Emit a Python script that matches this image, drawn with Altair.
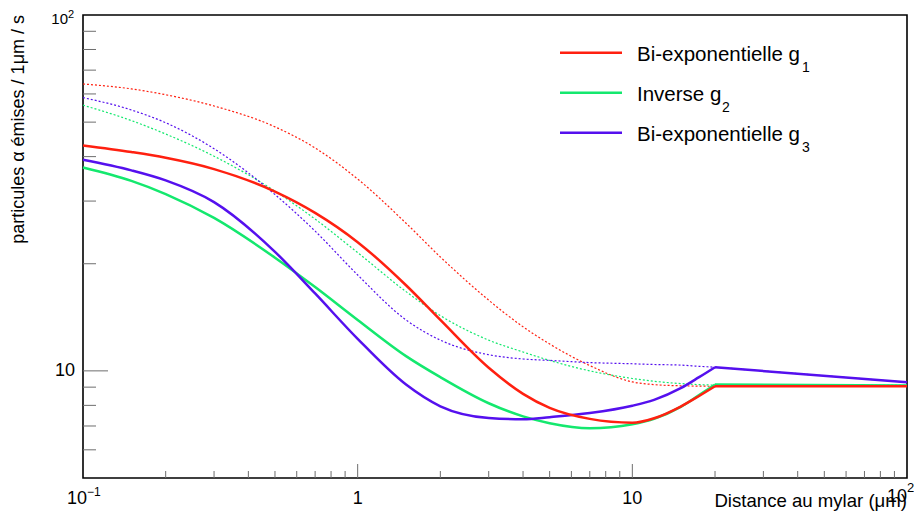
import altair as alt
import pandas as pd

# ---------------- data ----------------
x_main = [0.1, 0.15, 0.2, 0.3, 0.5, 0.7, 1, 1.5, 2, 3, 4, 5, 7, 10, 12, 15, 17.5, 20]
x_tail = [20, 100]

g1_solid = [43.0, 41.2, 39.7, 36.9, 31.9, 27.8, 23.0, 17.4, 13.9, 10.2, 8.62, 7.87, 7.33, 7.15, 7.36, 7.94, 8.5, 9.05]
g2_solid = [37.3, 34.2, 31.4, 26.9, 20.8, 17.2, 13.9, 11.0, 9.6, 8.11, 7.45, 7.13, 6.90, 7.08, 7.33, 7.92, 8.55, 9.15]
g3_solid = [39.2, 36.6, 34.3, 29.8, 21.6, 16.5, 12.3, 9.15, 7.95, 7.37, 7.31, 7.41, 7.61, 7.98, 8.29, 8.94, 9.6, 10.24]

g1_dot = [64.0, 62.0, 59.7, 55.5, 48.5, 42.3, 34.6, 26.0, 20.9, 15.8, 13.3, 11.9, 10.35, 9.31, 9.15, 9.08, 9.06, 9.05]
g2_dot = [55.8, 50.5, 46.3, 40.1, 32.0, 26.7, 21.5, 16.7, 14.3, 12.2, 11.3, 10.7, 10.0, 9.52, 9.35, 9.21, 9.15, 9.12]
g3_dot = [58.6, 54.1, 49.8, 42.1, 31.3, 24.7, 18.6, 13.9, 12.2, 11.1, 10.8, 10.7, 10.55, 10.47, 10.42, 10.38, 10.3, 10.24]

g1_tail = [9.05, 9.05]
g2_tail = [9.15, 9.1]
g3_tail = [10.24, 9.29]

series_names = ["g1", "g2", "g3"]
series_colors = ["#ff2010", "#14e86e", "#5510ee"]
legend_labels = ["Bi-exponentielle g", "Inverse g", "Bi-exponentielle g"]
legend_subs = ["1", "2", "3"]

x_tick_major = [1, 10]
x_tick_minor = [0.2, 0.3, 0.4, 0.5, 0.6, 0.7, 0.8, 0.9, 2, 3, 4, 5, 6, 7, 8, 9,
                20, 30, 40, 50, 60, 70, 80, 90]
y_tick_major = [10]
y_tick_minor = [6, 7, 8, 9, 20, 30, 40, 50, 60, 70, 80, 90]

x_label_vals = [0.1, 1, 10, 100]
x_label_base = ["10", "1", "10", "10"]
x_label_sup = ["\u22121", "", "", "2"]
x_label_kind = ["low", "mid", "mid", "high"]

y_label_vals = [10, 100]
y_label_base = ["10", "10"]
y_label_sup = ["", "2"]

x_title = "Distance au mylar (\u03bcm)"
y_title = "particules \u03b1 \u00e9mises / 1\u03bcm / s"

# ---------------- build tables ----------------
def rows(name, main, tail):
    out = []
    for xv, yv in zip(x_main, main):
        out.append({"x": xv, "y": yv, "series": name, "seg": name + "a"})
    for xv, yv in zip(x_tail, tail):
        out.append({"x": xv, "y": yv, "series": name, "seg": name + "b"})
    return out

solid_df = pd.DataFrame(rows("g1", g1_solid, g1_tail) + rows("g2", g2_solid, g2_tail) + rows("g3", g3_solid, g3_tail))
dot_df = pd.DataFrame(rows("g1", g1_dot, g1_tail) + rows("g2", g2_dot, g2_tail) + rows("g3", g3_dot, g3_tail))

W, H = 824, 463
FONT = "Liberation Sans"

xs = alt.Scale(type="log", domain=[0.1, 100], nice=False)
ys = alt.Scale(type="log", domain=[5, 100], nice=False)
cs = alt.Scale(domain=series_names, range=series_colors)

X = alt.X("x:Q", scale=xs, axis=None)
Y = alt.Y("y:Q", scale=ys, axis=None)

layers = []

# dotted curves
layers.append(
    alt.Chart(dot_df).mark_line(strokeWidth=1.2, strokeDash=[2, 2], interpolate="monotone").encode(
        x=X, y=Y, color=alt.Color("series:N", scale=cs, legend=None), detail="seg:N"
    )
)
# solid curves: green, blue, red on top
for name in ["g2", "g3", "g1"]:
    layers.append(
        alt.Chart(solid_df[solid_df.series == name]).mark_line(strokeWidth=2.5, interpolate="monotone").encode(
            x=X, y=Y, color=alt.Color("series:N", scale=cs, legend=None), detail="seg:N"
        )
    )

# ticks (inside the frame, ROOT style)
tick_color = "#6e6e6e"
xt_major = pd.DataFrame({"v": x_tick_major})
xt_minor = pd.DataFrame({"v": x_tick_minor})
yt_major = pd.DataFrame({"v": y_tick_major})
yt_minor = pd.DataFrame({"v": y_tick_minor})
layers.append(alt.Chart(xt_minor).mark_rule(color=tick_color, strokeWidth=1).encode(
    x=alt.X("v:Q", scale=xs, axis=None), y=alt.value(H), y2=alt.value(H - 7)))
layers.append(alt.Chart(xt_major).mark_rule(color=tick_color, strokeWidth=1).encode(
    x=alt.X("v:Q", scale=xs, axis=None), y=alt.value(H), y2=alt.value(H - 14)))
layers.append(alt.Chart(yt_minor).mark_rule(color=tick_color, strokeWidth=1).encode(
    y=alt.Y("v:Q", scale=ys, axis=None), x=alt.value(0), x2=alt.value(13)))
layers.append(alt.Chart(yt_major).mark_rule(color=tick_color, strokeWidth=1).encode(
    y=alt.Y("v:Q", scale=ys, axis=None), x=alt.value(0), x2=alt.value(25)))

# x tick labels
xl = pd.DataFrame({"v": x_label_vals, "base": x_label_base, "sup": x_label_sup, "kind": x_label_kind})
XL = alt.X("v:Q", scale=xs, axis=None)
layers.append(alt.Chart(xl[xl.kind == "mid"]).mark_text(font=FONT, fontSize=18, align="center", baseline="alphabetic").encode(
    x=XL, y=alt.value(H + 26), text="base:N"))
layers.append(alt.Chart(xl[xl.kind == "low"]).mark_text(font=FONT, fontSize=18, align="right", baseline="alphabetic", dx=4).encode(
    x=XL, y=alt.value(H + 26), text="base:N"))
layers.append(alt.Chart(xl[xl.kind == "low"]).mark_text(font=FONT, fontSize=12, align="left", baseline="alphabetic", dx=4).encode(
    x=XL, y=alt.value(H + 18), text="sup:N"))
layers.append(alt.Chart(xl[xl.kind == "high"]).mark_text(font=FONT, fontSize=18, align="right", baseline="alphabetic", dx=0).encode(
    x=XL, y=alt.value(H + 24), text="base:N"))
layers.append(alt.Chart(xl[xl.kind == "high"]).mark_text(font=FONT, fontSize=13, align="left", baseline="alphabetic", dx=0).encode(
    x=XL, y=alt.value(H + 14), text="sup:N"))

# y tick labels
yl = pd.DataFrame({"v": y_label_vals, "base": y_label_base, "sup": y_label_sup})
YL = alt.Y("v:Q", scale=ys, axis=None)
layers.append(alt.Chart(yl[yl.v == 10]).mark_text(font=FONT, fontSize=18, align="right", baseline="middle").encode(
    y=YL, x=alt.value(-8), text="base:N"))
layers.append(alt.Chart(yl[yl.v == 100]).mark_text(font=FONT, fontSize=15, align="right", baseline="alphabetic", dy=9).encode(
    y=YL, x=alt.value(-15), text="base:N"))
layers.append(alt.Chart(yl[yl.v == 100]).mark_text(font=FONT, fontSize=11, align="left", baseline="alphabetic", dy=3).encode(
    y=YL, x=alt.value(-15), text="sup:N"))

# axis titles
layers.append(alt.Chart(pd.DataFrame({"t": [x_title]})).mark_text(font=FONT, fontSize=18.6, align="right", baseline="alphabetic").encode(
    x=alt.value(W), y=alt.value(H + 29), text="t:N"))
layers.append(alt.Chart(pd.DataFrame({"t": [y_title]})).mark_text(font=FONT, fontSize=18, align="right", baseline="alphabetic", angle=270).encode(
    x=alt.value(-59), y=alt.value(0), text="t:N"))

# legend
for i, (name, col, lab, sub) in enumerate(zip(series_names, series_colors, legend_labels, legend_subs)):
    ly = 37.7 + 40 * i
    d = pd.DataFrame({"label": [lab], "sub": [sub]})
    layers.append(alt.Chart(d).mark_rule(color=col, strokeWidth=2.5).encode(
        x=alt.value(477), x2=alt.value(539), y=alt.value(ly)))
    layers.append(alt.Chart(d).mark_text(font=FONT, fontSize=20.5, align="left", baseline="alphabetic").encode(
        x=alt.value(554), y=alt.value(ly + 8.5), text="label:N"))
    sub_x = 639 if i == 1 else 719
    layers.append(alt.Chart(d).mark_text(font=FONT, fontSize=14, align="left", baseline="alphabetic").encode(
        x=alt.value(sub_x), y=alt.value(ly + 19.5), text="sub:N"))

chart = alt.layer(*layers).properties(
    width=W, height=H,
    autosize=alt.AutoSizeParams(type="none"),
    padding={"left": 75, "top": 7, "right": 7, "bottom": 34},
).configure_view(stroke="black", strokeWidth=1.6)

chart.save("out.html", embed_options={"renderer": "svg", "actions": False})
